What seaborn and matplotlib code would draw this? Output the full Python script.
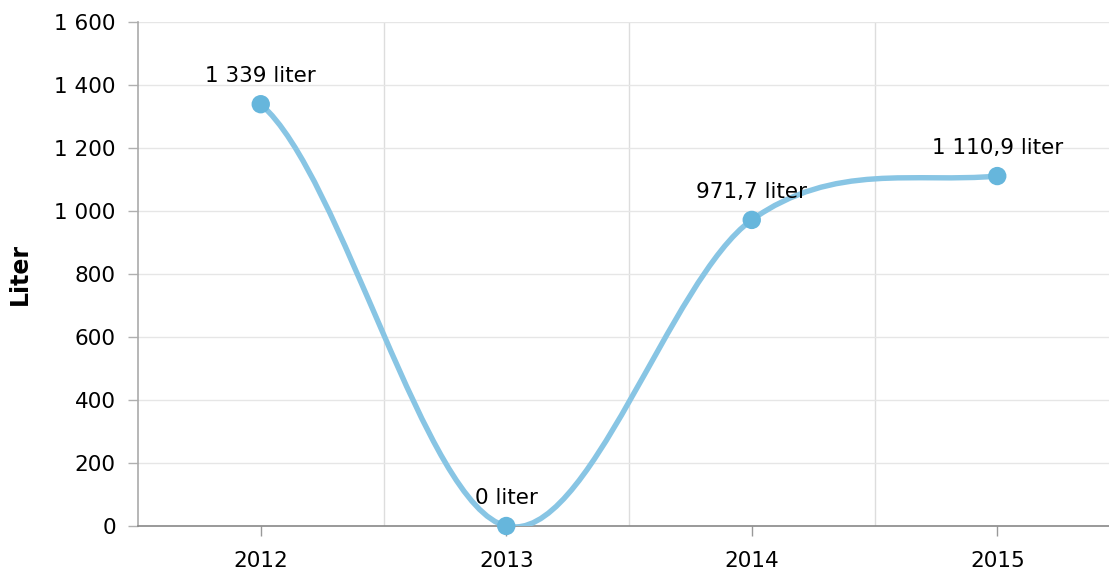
import numpy as np
import pandas as pd
import matplotlib
matplotlib.use("Agg")
import matplotlib.pyplot as plt
from matplotlib.path import Path
from matplotlib.patches import PathPatch
from matplotlib.ticker import FuncFormatter, MultipleLocator, FixedLocator
import seaborn as sns

# data
years = ["2012", "2013", "2014", "2015"]
liters = [1339, 0, 971.7, 1110.9]
point_labels = ["1 339 liter", "0 liter", "971,7 liter", "1 110,9 liter"]

LINE_COLOR = "#88c5e4"
MARKER_COLOR = "#66b6dc"
FS = 15.5


def spline_path(xs, ys):
    # catmull-rom spline through the points, written as cubic beziers
    xs = np.asarray(xs, dtype=float)
    ys = np.asarray(ys, dtype=float)
    n = len(xs)
    slopes = np.zeros(n)
    for i in range(n):
        a = max(i - 1, 0)
        b = min(i + 1, n - 1)
        slopes[i] = (ys[b] - ys[a]) / 2
    verts = [(xs[0], ys[0])]
    codes = [Path.MOVETO]
    for i in range(n - 1):
        dx = xs[i + 1] - xs[i]
        verts += [(xs[i] + dx / 3, ys[i] + slopes[i] / 3),
                  (xs[i + 1] - dx / 3, ys[i + 1] - slopes[i + 1] / 3),
                  (xs[i + 1], ys[i + 1])]
        codes += [Path.CURVE4] * 3
    return Path(verts, codes)


df = pd.DataFrame({"year": years, "liter": liters, "label": point_labels})
df["pos"] = np.arange(len(df))

sns.set_theme(style="white")
plt.rcParams["font.family"] = ["DejaVu Sans"]
plt.rcParams["font.size"] = FS

fig = plt.figure(figsize=(11.09, 5.73), dpi=100)
ax = fig.add_axes([138 / 1109, 1 - 526 / 573, 982 / 1109, 504 / 573])

# smooth line
patch = PathPatch(spline_path(df["pos"], df["liter"]),
                  facecolor="none", edgecolor=LINE_COLOR, lw=3.9,
                  capstyle="round", joinstyle="round", zorder=3)
ax.add_patch(patch)

sns.scatterplot(data=df, x="pos", y="liter", ax=ax, s=175, color=MARKER_COLOR,
                edgecolor="none", zorder=4, legend=False, clip_on=False)

for _, r in df.iterrows():
    ax.annotate(r["label"], (r["pos"], r["liter"]), xytext=(0, 13),
                textcoords="offset points", ha="center", va="bottom",
                fontsize=FS, color="#000000", zorder=5)

ax.set_xlim(-0.5, len(years) - 0.5)
ax.set_ylim(0, 1600)

# y axis
ax.yaxis.set_major_locator(MultipleLocator(200))
ax.yaxis.set_major_formatter(FuncFormatter(lambda v, p: f"{int(v):,}".replace(",", " ")))
ax.grid(axis="y", color="#e6e6e6", lw=1)

# x axis: ticks at categories, grid at band edges
ax.set_xticks(df["pos"])
ax.set_xticklabels(years)
ax.xaxis.set_minor_locator(FixedLocator(np.arange(0.5, len(years) - 0.5, 1)))
ax.grid(axis="x", which="minor", color="#dddddd", lw=1)
ax.set_axisbelow(True)

ax.tick_params(axis="y", which="major", length=7, width=1, color="#b0b0b0",
               pad=9, labelsize=FS, labelcolor="#000000", left=True)
ax.tick_params(axis="x", which="major", length=7, width=1, color="#999999",
               pad=11, labelsize=FS, labelcolor="#000000", bottom=True)
ax.tick_params(axis="x", which="minor", length=0)

for side in ["top", "right"]:
    ax.spines[side].set_visible(False)
ax.spines["left"].set_color("#aaaaaa")
ax.spines["left"].set_linewidth(1.2)
ax.spines["bottom"].set_color("#888888")
ax.spines["bottom"].set_linewidth(1.2)

ax.set_xlabel("")
ax.set_ylabel("Liter", fontsize=17, fontweight="bold", color="#000000", labelpad=16)

fig.savefig("out.png", dpi=100)
